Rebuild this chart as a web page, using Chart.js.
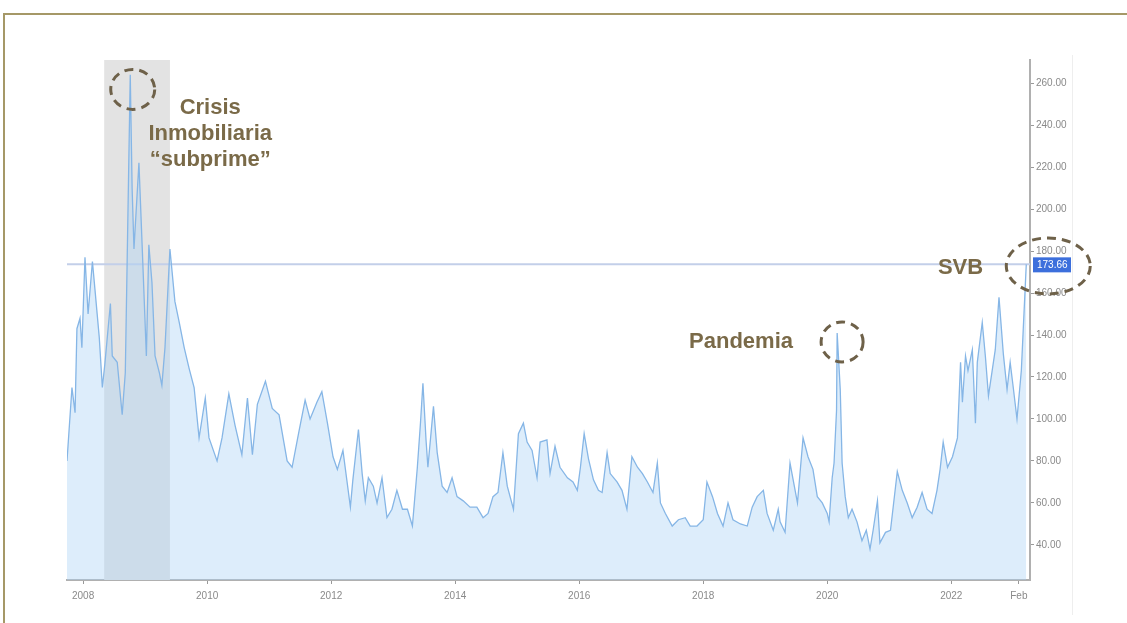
<!DOCTYPE html>
<html>
<head>
<meta charset="utf-8">
<script src="https://cdn.jsdelivr.net/npm/chart.js@4.4.0/dist/chart.umd.min.js"></script>
<style>
  html, body { margin: 0; padding: 0; background: #fff; }
  #wrap { position: relative; width: 1127px; height: 623px; overflow: hidden; }
  #frameTop { position: absolute; left: 3px; top: 13px; width: 1124px; height: 2px; background: #a59867; }
  #frameLeft { position: absolute; left: 3px; top: 13px; width: 2px; height: 610px; background: #a59867; }
  #rightRule { position: absolute; left: 1072px; top: 55px; width: 1px; height: 560px; background: #eeeeee; }
  canvas { position: absolute; left: 0; top: 0; }
</style>
</head>
<body>
<div id="wrap">
  <div id="frameTop"></div>
  <div id="frameLeft"></div>
  <div id="rightRule"></div>
  <canvas id="chart" width="1127" height="623"></canvas>
</div>
<script>
// dates as decimal years
const dates = [
  2007.74, 2007.82, 2007.87, 2007.90, 2007.95, 2007.98, 2008.03, 2008.08, 2008.15, 2008.19,
  2008.26, 2008.31, 2008.35, 2008.44, 2008.47, 2008.55, 2008.63, 2008.68, 2008.71, 2008.76,
  2008.79, 2008.82, 2008.90, 2008.95, 2009.02, 2009.06, 2009.11, 2009.16, 2009.23, 2009.27,
  2009.32, 2009.40, 2009.48, 2009.55, 2009.63, 2009.71, 2009.79, 2009.87, 2009.97, 2010.03,
  2010.16, 2010.24, 2010.35, 2010.45, 2010.56, 2010.65, 2010.73, 2010.81, 2010.94, 2011.05,
  2011.16, 2011.29, 2011.37, 2011.48, 2011.58, 2011.66, 2011.77, 2011.85, 2011.94, 2012.03,
  2012.10, 2012.19, 2012.31, 2012.35, 2012.44, 2012.50, 2012.55, 2012.60, 2012.68, 2012.74,
  2012.82, 2012.90, 2012.98, 2013.06, 2013.15, 2013.23, 2013.31, 2013.39, 2013.44, 2013.48,
  2013.53, 2013.56, 2013.65, 2013.71, 2013.79, 2013.87, 2013.95, 2014.03, 2014.13, 2014.24,
  2014.35, 2014.45, 2014.53, 2014.61, 2014.69, 2014.77, 2014.84, 2014.94, 2015.02, 2015.10,
  2015.16, 2015.24, 2015.32, 2015.37, 2015.48, 2015.53, 2015.61, 2015.69, 2015.81, 2015.90,
  2015.97, 2016.02, 2016.08, 2016.15, 2016.23, 2016.31, 2016.37, 2016.45, 2016.50, 2016.61,
  2016.69, 2016.77, 2016.85, 2016.94, 2017.02, 2017.10, 2017.19, 2017.26, 2017.31, 2017.39,
  2017.50, 2017.60, 2017.71, 2017.79, 2017.90, 2018.00, 2018.06, 2018.15, 2018.23, 2018.32,
  2018.40, 2018.48, 2018.60, 2018.71, 2018.79, 2018.87, 2018.97, 2019.03, 2019.13, 2019.21,
  2019.24, 2019.32, 2019.40, 2019.52, 2019.61, 2019.69, 2019.77, 2019.84, 2019.92, 2020.00,
  2020.03, 2020.08, 2020.11, 2020.15, 2020.16, 2020.21, 2020.24, 2020.29, 2020.34, 2020.40,
  2020.48, 2020.56, 2020.63, 2020.69, 2020.74, 2020.81, 2020.85, 2020.94, 2021.02, 2021.13,
  2021.21, 2021.29, 2021.37, 2021.45, 2021.53, 2021.61, 2021.69, 2021.77, 2021.82, 2021.87,
  2021.94, 2022.02, 2022.10, 2022.15, 2022.18, 2022.23, 2022.27, 2022.34, 2022.39, 2022.42,
  2022.50, 2022.55, 2022.60, 2022.66, 2022.71, 2022.77, 2022.84, 2022.90, 2022.95, 2023.00,
  2023.06, 2023.13, 2023.16, 2023.21
];
const moveValues = [
  80, 115, 103, 143, 148, 134, 177, 150, 175, 162,
  139, 115, 126, 155, 130, 127, 102, 122, 175, 264,
  210, 181, 222, 184, 130, 183, 165, 130, 122, 116,
  134, 181, 156, 146, 134, 124, 115, 91, 110, 91,
  80, 91, 112, 97, 83, 110, 83, 107, 118, 105,
  102, 80, 77, 94, 109, 100, 108, 113, 98, 82,
  76, 85, 58, 71, 95, 74, 61, 72, 68, 60,
  72, 53, 57, 66, 57, 57, 49, 77, 98, 117,
  90, 77, 106, 84, 68, 65, 72, 63, 61, 58,
  58, 53, 55, 63, 65, 84, 68, 57, 93, 98,
  89, 85, 72, 89, 90, 74, 87, 77, 72, 70,
  66, 77, 93, 81, 71, 66, 65, 84, 74, 70,
  66, 57, 82, 77, 74, 70, 65, 79, 60, 55,
  49, 52, 53, 49, 49, 52, 70, 63, 55, 49,
  60, 52, 50, 49, 58, 63, 66, 55, 47, 57,
  51, 46, 79, 60, 91, 82, 76, 63, 60, 55,
  51, 72, 79, 104, 141, 114, 79, 63, 53, 57,
  51, 42, 47, 38, 47, 61, 41, 46, 47, 75,
  66, 60, 53, 58, 65, 57, 55, 66, 76, 89,
  77, 82, 91, 127, 108, 130, 123, 133, 98, 127,
  146, 130, 111, 123, 133, 158, 131, 114, 127, 115,
  100, 123, 142, 173.66
];
const lastValue = 173.66;
const yTicks = [40, 60, 80, 100, 120, 140, 160, 180, 200, 220, 240, 260];
const xTicks = [2008, 2010, 2012, 2014, 2016, 2018, 2020, 2022, 2023.09];
const xTickLabels = ['2008', '2010', '2012', '2014', '2016', '2018', '2020', '2022', 'Feb'];
const crisisSpan = [2008.34, 2009.40];

const points = dates.map((d, i) => ({ x: d, y: moveValues[i] }));

const tickFont = { family: "'Liberation Sans Narrow', 'Arial Narrow', 'Liberation Sans', sans-serif", size: 10 };
const noteColor = '#7a6a48';
const ringColor = '#6e6149';

function ellipse(ctx, cx, cy, rx, ry) {
    ctx.save();
    ctx.strokeStyle = ringColor;
    ctx.lineWidth = 3;
    ctx.setLineDash([9, 6]);
    ctx.beginPath();
    ctx.ellipse(cx, cy, rx, ry, 0, 0, Math.PI * 2);
    ctx.stroke();
    ctx.restore();
}

const notesPlugin = {
    id: 'notes',
    beforeDatasetsDraw(chart) {
        const { ctx, chartArea, scales } = chart;
        const xs = scales.x, ys = scales.y;
        // grey band for the subprime crisis
        ctx.save();
        ctx.fillStyle = '#e3e3e3';
        const x1 = xs.getPixelForValue(crisisSpan[0]);
        const x2 = xs.getPixelForValue(crisisSpan[1]);
        ctx.fillRect(x1, chartArea.top, x2 - x1, chartArea.bottom - chartArea.top);
        // level of last close
        const yl = ys.getPixelForValue(lastValue);
        ctx.strokeStyle = '#c3cfe9';
        ctx.lineWidth = 2;
        ctx.beginPath();
        ctx.moveTo(chartArea.left, yl);
        ctx.lineTo(chartArea.right, yl);
        ctx.stroke();
        ctx.restore();
    },
    afterDraw(chart) {
        const { ctx, chartArea, scales } = chart;
        const xs = scales.x, ys = scales.y;

        // last value box on the axis
        const yl = ys.getPixelForValue(lastValue);
        ctx.save();
        ctx.fillStyle = '#3c6fdc';
        ctx.fillRect(chartArea.right + 3, yl - 7, 38, 15);
        ctx.fillStyle = '#ffffff';
        ctx.font = "10px 'Liberation Sans Narrow', 'Liberation Sans', sans-serif";
        ctx.textAlign = 'left';
        ctx.textBaseline = 'middle';
        ctx.fillText(lastValue.toFixed(2), chartArea.right + 7, yl + 0.5);
        ctx.restore();

        // dashed rings
        ellipse(ctx, xs.getPixelForValue(2008.8), ys.getPixelForValue(257), 22, 20);
        ellipse(ctx, xs.getPixelForValue(2020.24), ys.getPixelForValue(136.7), 21, 20);
        ellipse(ctx, xs.getPixelForValue(2023.21) + 22, ys.getPixelForValue(172.9), 42, 28);

        // labels
        ctx.save();
        ctx.fillStyle = noteColor;
        ctx.font = "bold 22px 'Liberation Sans', Arial, sans-serif";
        ctx.textAlign = 'center';
        ctx.textBaseline = 'middle';
        const cx = xs.getPixelForValue(2010.05);
        const cy = ys.getPixelForValue(248);
        ctx.fillText('Crisis', cx, cy);
        ctx.fillText('Inmobiliaria', cx, cy + 26);
        ctx.fillText('\u201Csubprime\u201D', cx, cy + 52);
        ctx.fillText('Pandemia', xs.getPixelForValue(2018.61), ys.getPixelForValue(136.7));
        ctx.fillText('SVB', xs.getPixelForValue(2022.15), ys.getPixelForValue(172));
        ctx.restore();
    }
};

const ctx = document.getElementById('chart').getContext('2d');
new Chart(ctx, {
    type: 'line',
    data: {
        datasets: [{
            label: 'MOVE',
            data: points,
            borderColor: '#86b6e6',
            borderWidth: 1.3,
            backgroundColor: 'rgba(170, 210, 245, 0.4)',
            fill: 'start',
            pointRadius: 0,
            tension: 0
        }]
    },
    options: {
        responsive: false,
        animation: false,
        layout: { padding: { left: 67, top: 60, right: 37, bottom: 13 } },
        plugins: { legend: { display: false }, tooltip: { enabled: false } },
        scales: {
            x: {
                type: 'linear',
                min: 2007.74,
                max: 2023.27,
                afterBuildTicks: scale => { scale.ticks = xTicks.map(v => ({ value: v })); },
                afterFit: scale => { scale.height = 30; },
                grid: { drawOnChartArea: false, tickLength: 4, color: '#999' },
                border: { color: '#b0b0b0', width: 2 },
                ticks: {
                    autoSkip: false,
                    maxRotation: 0,
                    padding: 6,
                    color: '#8a8a8a',
                    font: tickFont,
                    callback: (v, i) => xTickLabels[i]
                }
            },
            y: {
                position: 'right',
                min: 23.3,
                max: 271,
                afterBuildTicks: scale => { scale.ticks = yTicks.map(v => ({ value: v })); },
                afterFit: scale => { scale.width = 60; },
                grid: { drawOnChartArea: false, tickLength: 4, color: '#999' },
                border: { color: '#b0b0b0', width: 2 },
                ticks: {
                    padding: 2,
                    color: '#8a8a8a',
                    font: tickFont,
                    callback: v => Number(v).toFixed(2)
                }
            }
        }
    },
    plugins: [notesPlugin]
});
</script>
</body>
</html>
